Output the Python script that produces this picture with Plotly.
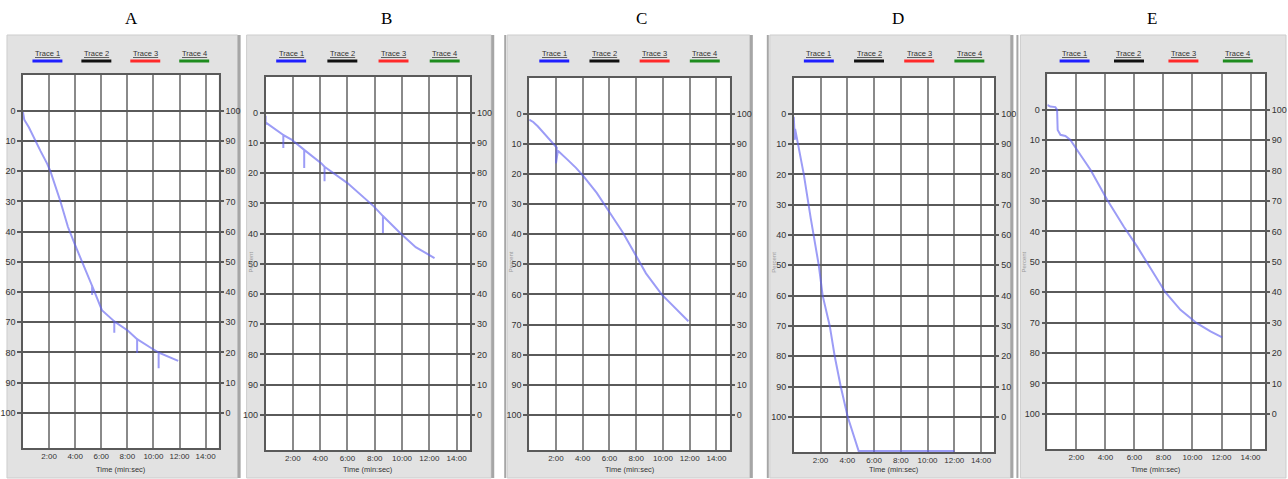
import plotly.graph_objects as go

W, H = 1288, 479

# ---------------- data ----------------
panel_labels = ["A", "B", "C", "D", "E"]
legend_names = ["Trace 1", "Trace 2", "Trace 3", "Trace 4"]
legend_colors = ["#1f1fff", "#111111", "#ff2a2a", "#1e8c1e"]
x_tick_vals = [2, 4, 6, 8, 10, 12, 14]
x_tick_text = ["2:00", "4:00", "6:00", "8:00", "10:00", "12:00", "14:00"]
y_tick_vals = [0, 10, 20, 30, 40, 50, 60, 70, 80, 90, 100]
y_right_tick_vals = [0, 10, 20, 30, 40, 50, 60, 70, 80, 90, 100]
x_title = "Time (min:sec)"
y_title = "Percent"

A_time = [0.0, 0.1, 0.45, 0.95, 1.35, 1.85, 2.1, 2.85, 3.45, 4.0, 4.5, 5.0, 5.3, 5.3, 5.3,
          6.05, 7.0, 7.0, 7.0, 8.05, 8.75, 8.75, 8.75, 9.85, 10.4, 10.4, 10.4, 11.9]
A_pct = [0.5, 3.0, 5.5, 10.0, 13.4, 17.5, 20.0, 29.7, 38.5, 44.5, 49.5, 55.0, 58.0, 61.0, 58.0,
         66.0, 69.7, 73.5, 69.7, 72.8, 75.6, 80.2, 75.6, 78.6, 80.0, 85.2, 80.0, 82.8]

B_time = [0.0, 0.0, 0.05, 1.3, 1.3, 1.3, 1.9, 2.83, 2.83, 2.83, 4.07, 4.32, 4.32, 4.32,
          6.0, 7.93, 8.6, 8.6, 8.6, 9.86, 11.0, 12.38]
B_pct = [1.0, 4.0, 3.4, 7.4, 11.7, 7.4, 8.9, 12.3, 18.3, 12.3, 16.7, 17.9, 22.7, 17.9,
         23.3, 31.0, 34.2, 39.8, 34.2, 39.8, 44.5, 48.1]

C_time = [0.0, 0.3, 0.64, 1.2, 1.86, 2.06, 2.0, 2.15, 2.84, 3.5, 4.07, 5.05, 6.03, 7.01,
          7.99, 8.73, 9.9, 11.0, 11.9]
C_pct = [2.0, 2.8, 4.2, 7.0, 10.3, 11.3, 16.5, 12.3, 15.2, 18.0, 20.8, 26.3, 32.9, 39.5,
         47.2, 53.0, 60.0, 65.0, 68.9]

D_time = [0.0, 0.05, 0.08, 0.1, 0.75, 1.27, 1.87, 2.16, 2.69, 3.06, 3.51, 4.03, 4.85, 12.0]
D_pct = [1.0, 4.5, 8.6, 5.0, 20.0, 34.5, 50.0, 60.0, 70.0, 80.0, 90.0, 100.0, 111.3, 111.3]

E_time = [0.0, 0.2, 0.55, 0.67, 0.71, 0.9, 1.24, 1.59, 2.05, 2.97, 4.12, 5.26, 6.19, 7.33,
          8.14, 9.17, 10.3, 11.24, 12.05]
E_pct = [-1.6, -1.1, -0.9, 0.0, 6.6, 8.2, 8.6, 9.9, 13.2, 19.7, 29.6, 38.4, 45.0, 53.7,
         60.1, 65.8, 70.2, 72.9, 74.9]

series_time = [A_time, B_time, C_time, D_time, E_time]
series_pct = [A_pct, B_pct, C_pct, D_pct, E_pct]

# ---------------- layout (pixel boxes) ----------------
plot_boxes = [(21, 75, 217, 448), (264, 77, 469, 450), (528, 78, 729, 450),
              (793, 78, 994, 452), (1047, 74, 1265, 449)]
grey_boxes = [(5, 35, 236, 478), (245, 35, 490, 478), (506, 35, 749, 478),
              (769, 35, 1010, 478), (1020, 35, 1286, 478)]
separators = [(236, 239), (490, 493), (503, 505), (749, 752), (766, 768), (1010, 1013), (1016, 1018)]
title_x = [130, 385, 640, 897, 1152]
show_percent = [False, True, True, True, True]

LINE_COLOR = "rgba(95,95,240,0.62)"
GRID_H = "#5a5a5a"
GRID_V = "#8a8a8a"
TICK_FONT = dict(family="Liberation Sans", size=9, color="#333333")


def px(x):
    return x / W


def py(y):
    return 1 - y / H


fig = go.Figure()
layout = dict(width=W, height=H, autosize=False, margin=dict(l=0, r=0, t=0, b=0),
              paper_bgcolor="white", plot_bgcolor="white", showlegend=False)
shapes = []
annotations = []

# grey panel backgrounds & separators
for (x0, y0, x1, y1) in grey_boxes:
    shapes.append(dict(type="rect", xref="paper", yref="paper", x0=px(x0), x1=px(x1),
                       y0=py(y1), y1=py(y0), fillcolor="#e2e2e2",
                       line=dict(color="#cdcdcd", width=1), layer="below"))
for (x0, x1) in separators:
    shapes.append(dict(type="rect", xref="paper", yref="paper", x0=px(x0), x1=px(x1),
                       y0=py(478), y1=py(35), fillcolor="#a6a6a6",
                       line=dict(width=0), layer="below"))

for i in range(5):
    n = i + 1
    xa = "x" if n == 1 else f"x{n}"
    yl_id = 2 * i + 1
    yr_id = 2 * i + 2
    yl = "y" if yl_id == 1 else f"y{yl_id}"
    yr = f"y{yr_id}"
    x0, y0, x1, y1 = plot_boxes[i]

    # white plot area
    shapes.append(dict(type="rect", xref="paper", yref="paper", x0=px(x0), x1=px(x1),
                       y0=py(y1), y1=py(y0), fillcolor="white",
                       line=dict(width=0), layer="below"))

    fig.add_trace(go.Scatter(x=series_time[i], y=series_pct[i], xaxis=xa, yaxis=yl,
                             mode="lines", line=dict(color=LINE_COLOR, width=2),
                             hoverinfo="skip"))
    fig.add_trace(go.Scatter(x=[None], y=[None], xaxis=xa, yaxis=yr, mode="lines",
                             hoverinfo="skip"))

    layout["xaxis" if n == 1 else f"xaxis{n}"] = dict(
        domain=[px(x0), px(x1)], anchor=yl, range=[0, 15],
        tickmode="array", tickvals=x_tick_vals, ticktext=x_tick_text,
        showgrid=True, gridcolor=GRID_V, gridwidth=2, zeroline=False,
        showline=True, linecolor=GRID_H, linewidth=1.5, mirror=True,
        ticks="", tickfont=dict(family="Liberation Sans", size=8, color="#333333"),
        fixedrange=True)
    layout["yaxis" if yl_id == 1 else f"yaxis{yl_id}"] = dict(
        domain=[py(y1), py(y0)], anchor=xa, range=[111.6, -11.8],
        tickmode="array", tickvals=y_tick_vals,
        showgrid=True, gridcolor=GRID_H, gridwidth=1.5, zeroline=False,
        showline=True, linecolor=GRID_H, linewidth=1.5, mirror=True,
        ticks="outside", ticklen=4, tickcolor=GRID_H, tickwidth=1.5,
        tickfont=TICK_FONT, fixedrange=True)
    layout[f"yaxis{yr_id}"] = dict(
        overlaying=yl, side="right", anchor=xa, range=[-11.6, 111.8],
        tickmode="array", tickvals=y_right_tick_vals,
        showgrid=False, zeroline=False, showline=False,
        ticks="outside", ticklen=4, tickcolor=GRID_H, tickwidth=1.5,
        tickfont=TICK_FONT, fixedrange=True)

    # panel title
    annotations.append(dict(text=panel_labels[i], x=px(title_x[i]), y=py(18), xref="paper",
                            yref="paper", showarrow=False, xanchor="center", yanchor="middle",
                            font=dict(family="Liberation Serif", size=17, color="black")))
    # legend items
    for k, (name, col) in enumerate(zip(legend_names, legend_colors)):
        cx = x0 + (0.125 + 0.25 * k) * (x1 - x0)
        annotations.append(dict(text=f"<u>{name}</u>", x=px(cx), y=py(54), xref="paper",
                                yref="paper", showarrow=False, xanchor="center",
                                yanchor="middle",
                                font=dict(family="Liberation Sans", size=7.5, color="#333333")))
        shapes.append(dict(type="line", xref="paper", yref="paper", x0=px(cx - 15),
                           x1=px(cx + 15), y0=py(61), y1=py(61),
                           line=dict(color=col, width=3)))
    # x title
    annotations.append(dict(text=x_title, x=px((x0 + x1) / 2), y=py(469), xref="paper",
                            yref="paper", showarrow=False, xanchor="center", yanchor="middle",
                            font=dict(family="Liberation Sans", size=7.5, color="#333333")))
    if show_percent[i]:
        gx0 = grey_boxes[i][0]
        annotations.append(dict(text=y_title, x=px(gx0 + 4), y=py(262), xref="paper",
                                yref="paper", showarrow=False, xanchor="center",
                                yanchor="middle", textangle=-90,
                                font=dict(family="Liberation Sans", size=6, color="#9a9a9a")))

layout["shapes"] = shapes
layout["annotations"] = annotations
fig.update_layout(**layout)

fig.write_html("out.html", config={"displayModeBar": False},
               post_script="document.body.style.margin='0';document.body.style.overflow='hidden';")
